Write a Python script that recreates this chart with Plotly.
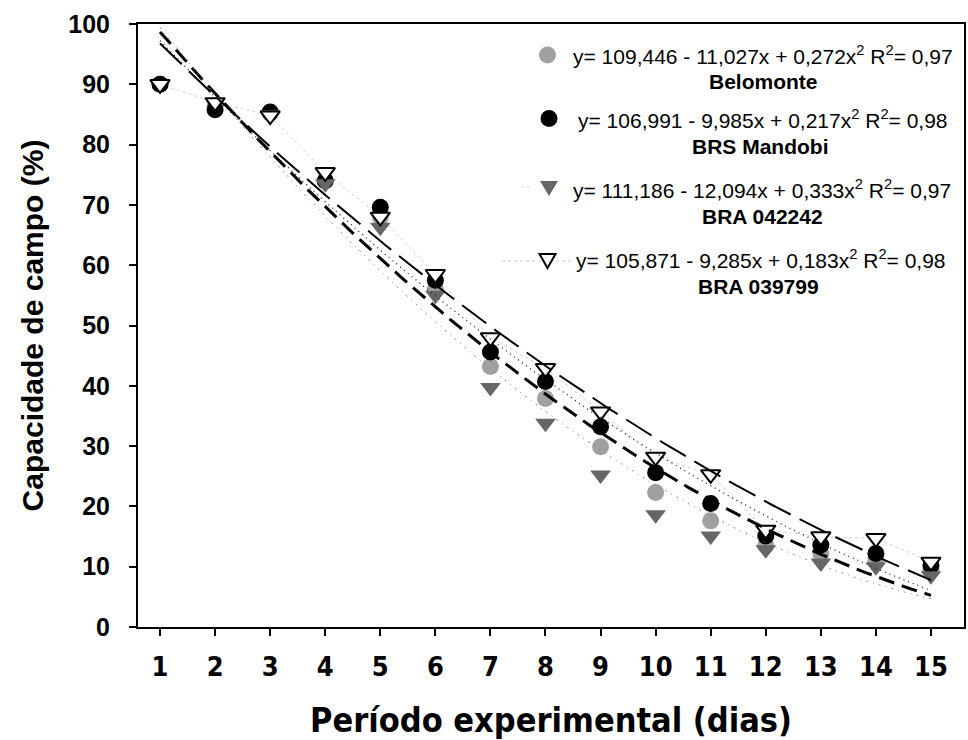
import plotly.graph_objects as go

# ---- data ----
dias = list(range(1, 16))
belomonte = [90, 86.5, 85.2, 74, 68, 56, 43.2, 37.9, 29.9, 22.3, 17.6, 13.5, 12.2, 11.1, 9.4]
mandobi = [90, 85.8, 85.4, 74, 69.6, 57.5, 45.6, 40.7, 33.2, 25.6, 20.5, 15.1, 13.6, 12.2, 10.2]
bra042242 = [90, 87, 85, 73.5, 66.3, 55, 39.7, 33.8, 25.2, 18.6, 15.1, 12.8, 10.6, 10.0, 8.5]
bra039799 = [90, 87, 84.8, 75.4, 68, 58.5, 48, 42.9, 35.7, 28.2, 25.3, 16.1, 15.0, 14.7, 10.8]

names = ["Belomonte", "BRS Mandobi", "BRA 042242", "BRA 039799"]
coef_a = [109.446, 106.991, 111.186, 105.871]
coef_b = [-11.027, -9.985, -12.094, -9.285]
coef_c = [0.272, 0.217, 0.333, 0.183]
eq_labels = [
    "y= 109,446 - 11,027x + 0,272x<sup>2</sup> R<sup>2</sup>= 0,97",
    "y= 106,991 - 9,985x + 0,217x<sup>2</sup> R<sup>2</sup>= 0,98",
    "y= 111,186 - 12,094x + 0,333x<sup>2</sup> R<sup>2</sup>= 0,97",
    "y= 105,871 - 9,285x + 0,183x<sup>2</sup> R<sup>2</sup>= 0,98",
]
y_ticks = list(range(0, 101, 10))

# ---- layout geometry ----
W, H = 968, 740
ML, MR, MT, MB = 138, 2, 24, 113
PW, PH = W - ML - MR, H - MT - MB


def fx(px):
    return (px - ML) / PW


def fy(py):
    return (H - MB - py) / PH


FONT = "Liberation Sans, Arial, sans-serif"
NARROW = "DejaVu Sans Condensed, Liberation Sans Narrow, Arial Narrow, Liberation Sans, sans-serif"

fig = go.Figure()

# faint dotted line joining BRA 039799 points
fig.add_trace(go.Scatter(x=dias, y=bra039799, mode="lines",
                         line=dict(color="#d2d2d2", width=1, dash="dot"),
                         showlegend=False, hoverinfo="skip"))

series = [belomonte, mandobi, bra042242, bra039799]
markers = [
    dict(symbol="circle", size=17, color="#a0a0a0", line=dict(width=0)),
    dict(symbol="circle", size=17, color="#000000", line=dict(width=0)),
    dict(symbol="triangle-down", size=18, color="#666666", line=dict(width=0)),
    dict(symbol="triangle-down", size=17, color="#ffffff", line=dict(color="#000000", width=2)),
]
for nm, ys, mk in zip(names, series, markers):
    fig.add_trace(go.Scatter(x=dias, y=ys, mode="markers", marker=mk, name=nm,
                             showlegend=False))

# regression curves from the fitted coefficients
xs = [1 + i * 0.1 for i in range(141)]
line_styles = [
    dict(color="#000000", width=3, dash="16px,8px"),
    dict(color="#222222", width=1.3, dash="1px,4px"),
    dict(color="#8a8a8a", width=1, dash="2px,5px,1px,5px"),
    dict(color="#000000", width=2, dash="30px,10px"),
]
for nm, a, b, c, ls in zip(names, coef_a, coef_b, coef_c, line_styles):
    fig.add_trace(go.Scatter(x=xs, y=[a + b * x + c * x * x for x in xs], mode="lines",
                             line=ls, showlegend=False, hoverinfo="skip", name=nm + " ajuste"))

# ---- legend (drawn as annotations and shapes) ----
leg_marker_px = [(548.5, 55), (550, 118.5), (550, 187), (548.5, 260)]
eq_px = [(572, 55), (577, 118.5), (572, 189), (575, 258.5)]
name_px = [(765, 81.7), (762, 146), (764.5, 216.7), (760, 286.7)]

shapes = []
shapes.append(dict(type="line", xref="paper", yref="paper", x0=fx(503), x1=fx(572),
                   y0=fy(261), y1=fy(261), line=dict(color="#c4c4c4", width=1, dash="dot"), layer="below"))
shapes.append(dict(type="line", xref="paper", yref="paper", x0=fx(522), x1=fx(534),
                   y0=fy(187), y1=fy(187), line=dict(color="#d5d5d5", width=1, dash="dot"), layer="below"))

r = 8.5
for i, (px, py) in enumerate(leg_marker_px):
    if i < 2:
        col = "#a0a0a0" if i == 0 else "#000000"
        shapes.append(dict(type="circle", xref="paper", yref="paper",
                           xsizemode="pixel", ysizemode="pixel",
                           xanchor=fx(px), yanchor=fy(py),
                           x0=-r, x1=r, y0=-r, y1=r,
                           fillcolor=col, line=dict(width=0)))
    elif i == 2:
        shapes.append(dict(type="path", xref="paper", yref="paper",
                           xsizemode="pixel", ysizemode="pixel",
                           xanchor=fx(px), yanchor=fy(py), path="M -9 6 L 9 6 L 0 -9 Z",
                           fillcolor="#666666", line=dict(width=0)))
    else:
        shapes.append(dict(type="path", xref="paper", yref="paper",
                           xsizemode="pixel", ysizemode="pixel",
                           xanchor=fx(px), yanchor=fy(py), path="M -8 6 L 8 6 L 0 -8 Z",
                           fillcolor="#ffffff", line=dict(color="#000000", width=2)))

annotations = []
for (ex, ey), txt in zip(eq_px, eq_labels):
    annotations.append(dict(x=fx(ex), y=fy(ey), xref="paper", yref="paper", text=txt,
                            showarrow=False, xanchor="left", yanchor="middle",
                            font=dict(family=FONT, size=21, color="#000000")))
for (nx, ny), nm in zip(name_px, names):
    annotations.append(dict(x=fx(nx), y=fy(ny), xref="paper", yref="paper",
                            text="<b>" + nm + "</b>", showarrow=False,
                            xanchor="center", yanchor="middle",
                            font=dict(family=FONT, size=21, color="#000000")))

fig.update_layout(
    width=W, height=H,
    margin=dict(l=ML, r=MR, t=MT, b=MB),
    paper_bgcolor="#ffffff", plot_bgcolor="#ffffff",
    shapes=shapes, annotations=annotations,
    showlegend=False,
)
fig.update_xaxes(
    range=[0.6, 15.6], tickmode="array", tickvals=dias, ticktext=[str(d) for d in dias],
    showgrid=False, zeroline=False, showline=True, linecolor="#000000", linewidth=2,
    mirror=True, ticks="outside", ticklen=7, tickwidth=2, tickcolor="#000000",
    tickfont=dict(family=NARROW, size=27, color="#000000", weight="bold"),
    ticklabelstandoff=8,
    title=dict(text="<b>Período experimental (dias)</b>", standoff=27,
               font=dict(family=NARROW, size=34, color="#000000")),
)
fig.update_yaxes(
    range=[0, 100], tickmode="array", tickvals=y_ticks,
    showgrid=False, zeroline=False, showline=True, linecolor="#000000", linewidth=2,
    mirror=True, ticks="outside", ticklen=7, tickwidth=2, tickcolor="#000000",
    tickfont=dict(family=FONT, size=25, color="#000000", weight="bold"),
    ticklabelstandoff=14,
    title=dict(text="<b>Capacidade de campo (%)</b>", standoff=16,
               font=dict(family=FONT, size=30, color="#000000")),
)

fig.write_html("out.html")
